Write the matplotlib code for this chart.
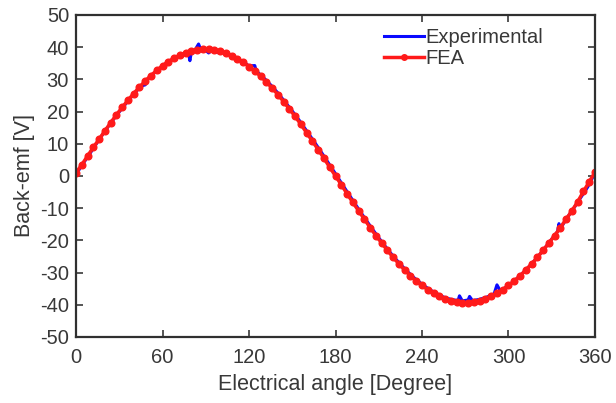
import numpy as np
import matplotlib
matplotlib.use("Agg")
import matplotlib.pyplot as plt

# FEA back-emf, every 4 degrees
fea_angle = list(range(0, 361, 4))
fea_emf = [1.0, 3.5, 6.2, 8.9, 11.4, 14.0, 16.5, 19.0, 21.3, 23.5,
           25.6, 27.6, 29.5, 31.2, 32.8, 34.2, 35.5, 36.6, 37.5, 38.2,
           38.8, 39.2, 39.4, 39.4, 39.1, 38.7, 38.1, 37.4, 36.4, 35.3,
           34.0, 32.6, 31.0, 29.2, 27.3, 25.3, 23.1, 20.8, 18.5, 16.0,
           13.4, 10.8, 8.2, 5.5, 2.7, 0.0, -2.7, -5.5, -8.2, -10.8,
           -13.4, -16.0, -18.5, -20.8, -23.1, -25.3, -27.3, -29.2, -31.0, -32.6,
           -34.0, -35.3, -36.4, -37.4, -38.1, -38.7, -39.1, -39.3, -39.3, -39.1,
           -38.7, -38.1, -37.4, -36.4, -35.3, -34.0, -32.6, -31.0, -29.2, -27.3,
           -25.3, -23.1, -20.8, -18.5, -16.0, -13.4, -10.8, -8.0, -4.8, -1.8,
           1.2]

# measured back-emf
exp_angle = [0, 5, 10, 15, 20, 25, 30, 35, 40, 45, 48, 50, 55, 60, 65, 70, 75,
             78, 79, 80, 82, 85, 87, 90, 92, 95, 98, 100, 105, 110, 115, 120,
             124, 125, 130, 135, 140, 145, 150, 155, 160, 165, 170, 175, 180,
             185, 190, 195, 200, 205, 210, 215, 220, 225, 230, 235, 240, 245,
             250, 255, 260, 265, 266, 268, 272, 273, 275, 280, 285, 290, 292,
             294, 296, 300, 305, 310, 315, 320, 325, 330, 334, 335, 336, 340,
             345, 350, 355, 360]
exp_emf = [0.5, 3.9, 7.2, 10.6, 13.9, 17.0, 19.9, 22.7, 25.4, 27.9, 28.3, 30.2,
           32.3, 34.2, 35.7, 37.0, 37.9, 38.2, 35.8, 38.5, 38.7, 41.0, 38.8,
           39.0, 38.2, 39.4, 38.3, 38.8, 38.1, 37.0, 35.7, 34.2, 34.3, 32.6,
           30.6, 28.3, 25.8, 23.0, 20.2, 17.2, 14.0, 10.8, 7.5, 4.1, 0.7,
           -2.8, -6.2, -9.6, -12.9, -16.1, -19.2, -22.1, -24.9, -27.4, -29.7,
           -31.8, -33.6, -35.2, -36.5, -37.6, -38.3, -38.7, -37.2, -38.8, -38.5,
           -37.4, -38.7, -38.3, -37.6, -36.6, -33.8, -35.4, -35.2, -34.0, -32.2,
           -30.1, -27.8, -25.3, -22.5, -19.6, -17.3, -14.8, -16.4, -13.4, -10.2,
           -6.8, -3.4, 1.0]

plt.rcParams['font.family'] = ['Liberation Sans', 'DejaVu Sans']
plt.rcParams['axes.unicode_minus'] = False
txt = '#383838'

fig = plt.figure(figsize=(6.16, 4.03), dpi=100)
ax = fig.add_axes([0.1234, 0.1638, 0.8425, 0.799])

ax.plot(exp_angle, exp_emf, color='#0a0aff', linewidth=2.2, label='Experimental')
ax.plot(fea_angle, fea_emf, color='#ff1a1a', linewidth=2.5, marker='o',
        markersize=4.8, label='FEA')

ax.set_xlim(0, 360)
ax.set_ylim(-50, 50)
ax.set_xticks([0, 60, 120, 180, 240, 300, 360])
ax.set_yticks(np.arange(-50, 51, 10))
ax.tick_params(direction='in', top=True, right=True, length=5, width=1.2,
               labelsize=14.5, colors=txt)
ax.tick_params(axis='x', pad=8)
ax.tick_params(axis='y', pad=5)
for s in ax.spines.values():
    s.set_linewidth(1.6)
    s.set_color('#303030')

ax.set_xlabel('Electrical angle [Degree]', fontsize=15.5, color=txt, labelpad=5)
ax.set_ylabel('Back-emf [V]', fontsize=15.5, color=txt, labelpad=4)

leg = ax.legend(loc='upper left', frameon=False, fontsize=14.5, numpoints=1,
                handlelength=2.0, handletextpad=0.05, labelspacing=0.1,
                borderaxespad=0.0, bbox_to_anchor=(0.578, 0.985))
for t in leg.get_texts():
    t.set_color(txt)
leg.get_lines()[1].set_markersize(4)

fig.savefig('out.png', dpi=100)
